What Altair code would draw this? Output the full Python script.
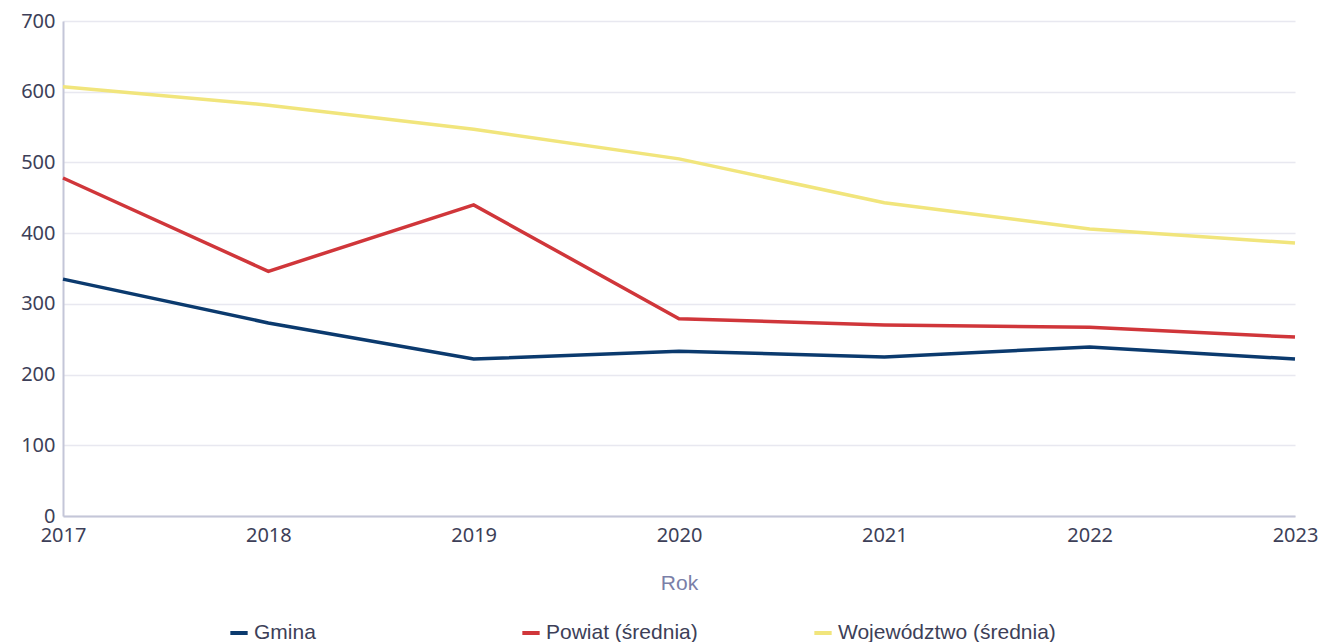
import altair as alt
import pandas as pd

years = [2017, 2018, 2019, 2020, 2021, 2022, 2023]
gmina = [335, 273, 222, 233, 225, 239, 222]
powiat = [478, 346, 440, 279, 270, 267, 253]
wojew = [607, 581, 547, 505, 443, 406, 386]
series = ["Gmina", "Powiat (średnia)", "Województwo (średnia)"]
colors = ["#0b3a6e", "#d0363a", "#f1e57c"]

rows = []
for name, vals in zip(series, [gmina, powiat, wojew]):
    for y, v in zip(years, vals):
        rows.append({"Rok": y, "Wartość": v, "Seria": name})
df = pd.DataFrame(rows)

chart = alt.Chart(df).mark_line(strokeWidth=3.5).encode(
    x=alt.X("Rok:Q",
            scale=alt.Scale(domain=[2017, 2023], nice=False, zero=False),
            axis=alt.Axis(values=years, format="d", title="Rok", grid=False,
                          ticks=False, labelFontSize=20, labelFont="Noto Sans",
                          labelColor="#3d3f58", labelPadding=9,
                          titleFont="Liberation Sans", titleFontSize=21,
                          titleFontWeight="normal", titleColor="#7b7fa8",
                          titlePadding=27, domainColor="#c4c6d8", domainWidth=2,
                          labelFlush=False)),
    y=alt.Y("Wartość:Q",
            scale=alt.Scale(domain=[0, 700], nice=False),
            axis=alt.Axis(values=[0, 100, 200, 300, 400, 500, 600, 700], title=None,
                          ticks=False, labelFontSize=20, labelFont="Noto Sans",
                          labelColor="#3d3f58", labelPadding=8,
                          gridColor="#e8e8f0", gridWidth=1.5,
                          domainColor="#c4c6d8", domainWidth=2)),
    color=alt.Color("Seria:N",
                    scale=alt.Scale(domain=series, range=colors),
                    legend=alt.Legend(title=None, orient="none", legendX=165, legendY=601,
                                      direction="horizontal", columns=3, gridAlign="all",
                                      symbolType="stroke", symbolStrokeWidth=4, symbolSize=300,
                                      labelFont="Liberation Sans", labelFontSize=21,
                                      labelColor="#3d3f58", columnPadding=42,
                                      labelLimit=400, symbolOffset=0))
).properties(
    width=1232, height=495,
    autosize=alt.AutoSizeParams(type="none"),
    padding={"left": 55, "top": 13, "right": 26, "bottom": 129}
).configure_view(stroke=None)

chart.save("out.html", embed_options={"renderer": "svg", "actions": False})
